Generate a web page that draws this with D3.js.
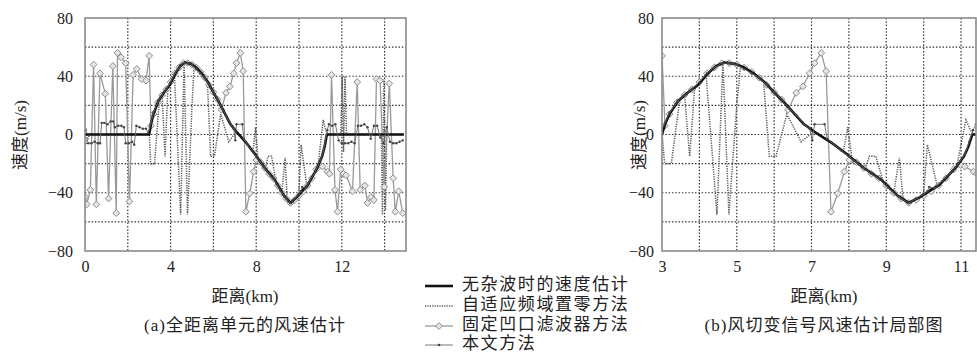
<!DOCTYPE html>
<html>
<head>
<meta charset="utf-8">
<script src="https://cdn.jsdelivr.net/npm/d3@7"></script>
<style>
  body { margin: 0; background: #fff; }
  svg { display: block; }
  text { font-family: "Liberation Serif", "Noto Sans CJK SC", serif; fill: #222; }
</style>
</head>
<body>
<div id="chart"></div>
<script>
// [km, m/s] pairs
const truthSpeed = [
  [0, 0], [3.0, 0], [3.08, 7], [3.2, 14], [3.43, 23], [3.7, 29], [3.96, 34], [4.23, 42], [4.45, 47],
  [4.67, 49.5], [4.95, 48.5], [5.2, 46], [5.45, 42], [5.74, 36], [6.0, 29], [6.27, 22], [6.55, 14],
  [6.8, 7], [7.1, 1.5], [7.5, -5], [7.97, -14], [8.4, -23], [8.86, -31], [9.3, -42], [9.6, -47],
  [9.9, -43], [10.2, -38], [10.4, -35], [10.63, -29], [10.88, -22], [11.08, -15], [11.2, -8],
  [11.3, 0], [14.9, 0]
];

const adaptiveNulling = [
  [0, 0], [0.05, 4], [0.1, -5], [0.2, 0], [2.9, 0], [3.0, 2], [3.07, -20], [3.25, -20], [3.47, 23],
  [3.6, 28], [3.74, -15], [3.87, 31], [4.05, 36], [4.18, 41], [4.47, -55], [4.63, 49], [4.79, -55],
  [5.0, 20], [5.1, 47], [5.3, 44], [5.5, 41], [5.72, 36], [5.87, -15], [6.05, -15], [6.34, 14],
  [6.72, -5], [7.07, 2], [7.3, -2], [7.6, -7], [7.85, -12], [7.97, 5], [8.1, -20], [8.3, -21],
  [8.4, -25], [8.55, -15], [8.72, -15], [8.95, -35], [9.2, -40], [9.35, -16], [9.45, -45],
  [9.65, -46], [9.9, -43], [10.0, -40], [10.1, -7], [10.37, -36], [10.6, -30], [10.9, -20],
  [11.13, 10], [11.25, 3], [11.35, 0], [11.95, 0], [12.02, 40], [12.08, -12], [12.15, 40],
  [12.22, 0], [13.85, 0], [13.9, -55], [13.97, 38], [14.04, -52], [14.1, 0], [14.9, 0]
];

const notchFilter = [
  [0.0, -43], [0.08, -48], [0.25, -38], [0.4, 48], [0.53, -48], [0.7, 42], [0.95, 28], [1.1, -44],
  [1.3, 47], [1.46, -54], [1.52, 56], [1.68, 53], [1.9, 49], [2.08, -46], [2.25, 41], [2.42, 45],
  [2.65, 38], [2.85, 37], [3.0, 54], [3.08, 6], [3.2, 14], [3.4, 22], [3.6, 27], [3.8, 31],
  [4.0, 36], [4.2, 42], [4.4, 46], [4.6, 49], [4.8, 49], [5.0, 48], [5.2, 46], [5.4, 43],
  [5.6, 39], [5.8, 34], [6.0, 29], [6.2, 24], [6.37, 17], [6.59, 28.6], [6.77, 33], [6.95, 42],
  [7.08, 49], [7.26, 56], [7.39, 43.5], [7.52, -53], [7.7, -40.5], [7.88, -25.5], [8.01, -17.5],
  [8.2, -19], [8.4, -23], [8.6, -27], [8.8, -30], [9.0, -35], [9.2, -40], [9.4, -44], [9.6, -47],
  [9.8, -45], [10.0, -42], [10.2, -39], [10.4, -35], [10.6, -30], [10.8, -24], [10.99, -21],
  [11.1, -22], [11.33, -25.5], [11.42, -27], [11.52, 41], [11.68, -38], [11.8, -53], [11.95, -24],
  [12.08, -27], [12.2, -28], [12.5, -39], [12.72, 36], [12.86, -38], [13.08, -35], [13.2, -47],
  [13.36, -43], [13.5, -45], [13.62, 38], [13.79, 37], [13.98, -36], [14.22, 35], [14.4, -30],
  [14.5, -53], [14.66, -39], [14.85, -54]
];

const proposedMethod = [
  [0, -6], [0.15, -6], [0.3, -6], [0.45, -5], [0.6, -6], [0.7, -6], [0.78, 8], [0.9, 8], [1.05, 7],
  [1.2, 9], [1.32, 9], [1.4, 5], [1.55, 6], [1.7, 6], [1.82, 5], [1.9, -6], [2.05, -6], [2.2, -5],
  [2.3, -7], [2.4, 6], [2.55, 5], [2.7, 4], [2.85, 4], [2.95, 1], [3.08, 8], [3.2, 15], [3.43, 23],
  [3.6, 27], [3.8, 31], [4.0, 36], [4.2, 42], [4.4, 46], [4.6, 49], [4.8, 49], [5.0, 48], [5.2, 45],
  [5.4, 42], [5.6, 39], [5.8, 34], [6.0, 29], [6.2, 24], [6.4, 18], [6.6, 13], [6.8, 7], [6.95, 4],
  [7.02, -4], [7.08, 7], [7.35, 7], [7.42, -3], [7.6, -7], [7.8, -11], [8.0, -15], [8.2, -19],
  [8.4, -23], [8.6, -27], [8.8, -30], [9.0, -35], [9.2, -40], [9.4, -44], [9.6, -47], [9.8, -44],
  [10.0, -41], [10.1, -39], [10.15, -36], [10.3, -37], [10.5, -32], [10.7, -27], [10.9, -21],
  [11.1, -14], [11.22, -5], [11.32, 3], [11.4, 7], [11.55, 6], [11.7, 7], [11.85, -4], [12.0, -6],
  [12.15, -6], [12.3, -6], [12.45, -5], [12.6, -6], [12.75, 6], [12.9, 6], [13.05, 7], [13.2, 5],
  [13.35, -3], [13.5, 6], [13.65, 6], [13.8, -2], [13.95, -6], [14.1, 5], [14.25, -5], [14.4, -6],
  [14.55, -6], [14.7, -5], [14.85, -4]
];

const yTicks = [-80, -40, 0, 40, 80];
const yGrid = [-60, -40, -20, 0, 20, 40, 60];
const xTicksA = [0, 4, 8, 12];
const xGridA = [2, 4, 6, 8, 10, 12, 14];
const xTicksB = [3, 5, 7, 9, 11];
const xGridB = [4, 5, 6, 7, 8, 9, 10, 11];
const legendNames = ["无杂波时的速度估计", "自适应频域置零方法", "固定凹口滤波器方法", "本文方法"];
const captions = ["(a)全距离单元的风速估计", "(b)风切变信号风速估计局部图"];

const W = 977, H = 358;
const svg = d3.select("#chart").append("svg").attr("width", W).attr("height", H);
svg.append("rect").attr("width", W).attr("height", H).attr("fill", "#fff");

const y = d3.scaleLinear().domain([-80, 80]).range([251, 18]);
const fmt = d => d < 0 ? "\u2212" + Math.abs(d) : String(d);
const diamond = "M0,-3.4L3.4,0L0,3.4L-3.4,0Z";

const panels = [
  { id: "a", x: d3.scaleLinear().domain([0, 15]).range([85, 406]), ticks: xTicksA, grid: xGridA,
    pad: 12, ylabX: 22, cx: 245, caption: captions[0] },
  { id: "b", x: d3.scaleLinear().domain([3, 11.4]).range([662, 976]), ticks: xTicksB, grid: xGridB,
    pad: 8, ylabX: 641, cx: 824, caption: captions[1] }
];

panels.forEach(p => {
  const x = p.x;
  const [x0, x1] = x.range();

  svg.append("clipPath").attr("id", "clip-" + p.id)
    .append("rect").attr("x", x0).attr("y", y(80)).attr("width", x1 - x0).attr("height", y(-80) - y(80));

  // grid
  const grid = svg.append("g").attr("stroke", "#333").attr("stroke-width", 1.2).attr("stroke-dasharray", "1.5,1.8");
  grid.selectAll(".gx").data(p.grid).join("line")
    .attr("x1", d => x(d)).attr("x2", d => x(d)).attr("y1", y(80)).attr("y2", y(-80));
  grid.selectAll(".gy").data(yGrid).join("line")
    .attr("x1", x0).attr("x2", x1).attr("y1", d => y(d)).attr("y2", d => y(d));

  const g = svg.append("g").attr("clip-path", `url(#clip-${p.id})`);
  const line = d3.line().x(d => x(d[0])).y(d => y(d[1]));

  // adaptive nulling (dotted)
  g.append("path").datum(adaptiveNulling).attr("d", line)
    .attr("fill", "none").attr("stroke", "#555").attr("stroke-width", 1.5).attr("stroke-dasharray", "1.2,1.2");

  // fixed notch filter (diamonds)
  g.append("path").datum(notchFilter).attr("d", line)
    .attr("fill", "none").attr("stroke", "#999").attr("stroke-width", 1.3);
  g.selectAll(".dm").data(notchFilter).join("path")
    .attr("d", diamond).attr("transform", d => `translate(${x(d[0])},${y(d[1])})`)
    .attr("fill", "#e6e6e6").attr("stroke", "#8c8c8c").attr("stroke-width", 1);

  // truth
  g.append("path").datum(truthSpeed).attr("d", line)
    .attr("fill", "none").attr("stroke", "#111").attr("stroke-width", 2.6).attr("stroke-linejoin", "round");

  // proposed method
  g.append("path").datum(proposedMethod).attr("d", line)
    .attr("fill", "none").attr("stroke", "#666").attr("stroke-width", 0.9);
  g.selectAll(".pt").data(proposedMethod).join("circle")
    .attr("cx", d => x(d[0])).attr("cy", d => y(d[1])).attr("r", 1.2).attr("fill", "#444");

  // frame
  svg.append("rect").attr("x", x0).attr("y", y(80)).attr("width", x1 - x0).attr("height", y(-80) - y(80))
    .attr("fill", "none").attr("stroke", "#8a8a8a").attr("stroke-width", 1.6);

  // axes
  const ya = svg.append("g").attr("transform", `translate(${x0},0)`)
    .call(d3.axisLeft(y).tickValues(yTicks).tickSize(0).tickPadding(p.pad).tickFormat(fmt));
  const xa = svg.append("g").attr("transform", `translate(0,${y(-80)})`)
    .call(d3.axisBottom(x).tickValues(p.ticks).tickSize(0).tickPadding(10).tickFormat(fmt));
  [ya, xa].forEach(a => {
    a.select(".domain").remove();
    a.selectAll("text").attr("font-size", 16).attr("font-family", "Liberation Serif, serif").attr("fill", "#222");
  });

  svg.append("text").attr("transform", `translate(${p.ylabX},135) rotate(-90)`)
    .attr("text-anchor", "middle").attr("dominant-baseline", "middle")
    .attr("font-size", 17).text("速度(m/s)");

  svg.append("text").attr("x", p.cx).attr("y", 298).attr("text-anchor", "middle")
    .attr("dominant-baseline", "middle").attr("font-size", 17).text("距离(km)");

  svg.append("text").attr("x", p.cx).attr("y", 327).attr("text-anchor", "middle")
    .attr("dominant-baseline", "middle").attr("font-size", 17).attr("letter-spacing", 1).text(p.caption);
});

// legend
const legend = svg.append("g");
const rowsY = [286, 306, 326, 345];
legendNames.forEach((name, i) => {
  const ly = rowsY[i];
  const l = legend.append("line").attr("x1", 425).attr("x2", 453).attr("y1", ly).attr("y2", ly);
  if (i === 0) l.attr("stroke", "#111").attr("stroke-width", 2.6);
  if (i === 1) l.attr("stroke", "#555").attr("stroke-width", 1.5).attr("stroke-dasharray", "1.2,1.2");
  if (i === 2) {
    l.attr("stroke", "#999").attr("stroke-width", 1.3);
    legend.append("path").attr("d", diamond).attr("transform", `translate(439,${ly})`)
      .attr("fill", "#e6e6e6").attr("stroke", "#8c8c8c");
  }
  if (i === 3) {
    l.attr("stroke", "#666").attr("stroke-width", 0.9);
    legend.append("circle").attr("cx", 439).attr("cy", ly).attr("r", 1.3).attr("fill", "#444");
  }
  legend.append("text").attr("x", 462).attr("y", ly).attr("dominant-baseline", "middle")
    .attr("font-size", 17).attr("letter-spacing", 1.6).text(name);
});
</script>
</body>
</html>
